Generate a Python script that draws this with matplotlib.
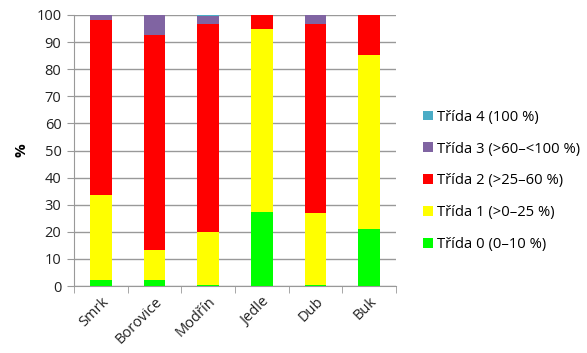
import matplotlib
matplotlib.use("Agg")
import matplotlib.pyplot as plt
import numpy as np

categories = ["Smrk", "Borovice", "Modřín", "Jedle", "Dub", "Buk"]
series_names = ["Třída 0 (0–10 %)", "Třída 1 (>0–25 %)", "Třída 2 (>25–60 %)",
                "Třída 3 (>60–<100 %)", "Třída 4 (100 %)"]
trida0 = [2.2, 2.2, 0.5, 27.4, 0.4, 21.0]
trida1 = [31.2, 11.1, 19.6, 67.5, 26.4, 64.3]
trida2 = [64.6, 79.3, 76.7, 5.1, 70.0, 14.7]
trida3 = [2.0, 7.3, 2.7, 0.0, 3.1, 0.0]
trida4 = [0.0, 0.1, 0.5, 0.0, 0.1, 0.0]
colors = ["#00FF00", "#FFFF00", "#FF0000", "#8064A2", "#4BACC6"]

plt.rcParams['font.family'] = ['Open Sans', 'DejaVu Sans']

fig = plt.figure(figsize=(5.87, 3.53), dpi=100)
ax = fig.add_axes([74/587, 1-286/353, (396-74)/587, (286-15)/353])

x = np.arange(len(categories))
bottom = np.zeros(len(categories))
data = [trida0, trida1, trida2, trida3, trida4]
handles = []
for vals, c, name in zip(data, colors, series_names):
    h = ax.bar(x, vals, 0.4, bottom=bottom, color=c, label=name, zorder=3)
    handles.append(h)
    bottom += np.array(vals)

ax.set_xlim(-0.5, len(categories) - 0.5)
ax.set_ylim(0, 100)
ax.set_yticks(np.arange(0, 101, 10))
ax.yaxis.grid(True, color="#999999", linewidth=1, zorder=0)
ax.set_axisbelow(True)
for s in ["top", "right"]:
    ax.spines[s].set_visible(False)
ax.spines["left"].set_color("#999999")
ax.spines["bottom"].set_color("#999999")
ax.tick_params(axis="y", length=5, color="#999999", labelsize=10.5, labelcolor="#222222", pad=4)
ax.set_xticks(x)
ax.set_xticklabels(categories, rotation=45, ha="right", rotation_mode="anchor", fontsize=10.5, color="#222222")
ax.tick_params(axis="x", length=0, pad=6)
ax.set_xticks(np.arange(-0.5, len(categories) + 0.5, 1), minor=True)
ax.tick_params(axis="x", which="minor", length=5, color="#999999")
ax.set_ylabel("%", fontsize=11, fontweight="bold", labelpad=6)

leg = fig.legend(handles[::-1], series_names[::-1], loc="center left",
                 bbox_to_anchor=(410/587, 1-181/353), frameon=False,
                 fontsize=10.6, handlelength=0.65, handleheight=0.65,
                 handletextpad=0.3, labelspacing=1.15)

fig.savefig("out.png", dpi=100)
